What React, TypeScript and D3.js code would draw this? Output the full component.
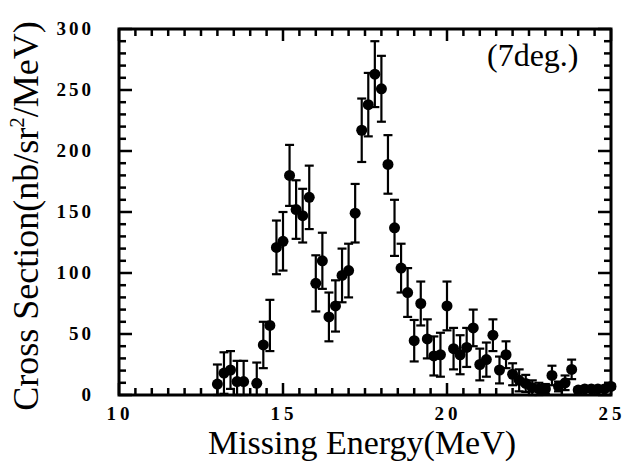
import React from "react";
import * as d3 from "d3";

const energies = [13.0, 13.2, 13.4, 13.6, 13.8, 14.2, 14.4, 14.6, 14.8, 15.0, 15.2, 15.4, 15.6, 15.8, 16.0, 16.2, 16.4, 16.6, 16.8, 17.0, 17.2, 17.4, 17.6, 17.8, 18.0, 18.2, 18.4, 18.6, 18.8, 19.0, 19.2, 19.4, 19.6, 19.8, 20.0, 20.2, 20.4, 20.6, 20.8, 21.0, 21.2, 21.4, 21.6, 21.8, 22.0, 22.2, 22.4, 22.6, 22.8, 23.0, 23.2, 23.4, 23.6, 23.8, 24.0, 24.2, 24.4, 24.6, 24.8, 25.0];
const crossSection = [9, 18, 20.5, 11, 11, 9.6, 41, 57, 121, 126, 180, 152, 147, 162, 91.5, 110, 64, 73, 98, 102, 149, 217, 238, 263, 251, 189, 137, 104, 84, 44.5, 75, 46, 32, 33, 73, 38, 33, 39, 55, 25, 29, 49, 20.5, 33, 17, 12, 9.5, 6, 5, 5, 16, 7, 10, 21, 4, 5, 5, 5, 5, 7];
const errors = [16, 17, 15.5, 17, 17, 17, 19, 21, 22, 24, 25, 24, 22, 26, 23, 23, 20, 21, 22, 22, 24, 26, 26, 27, 27, 24, 23, 20, 20, 17, 18, 16, 16, 18, 20, 17, 16, 16, 15, 13, 14, 13, 11, 11, 9, 9, 7, 6, 5, 4, 8, 4, 6, 8, 2, 2, 2, 2, 2, 2];

const xTickLabels = [10, 15, 20, 25];
const yTickLabels = [0, 50, 100, 150, 200, 250, 300];

const W = 625, H = 467;
const L = 119, R = 611, T = 29, B = 395;

export default function App() {
  const x = d3.scaleLinear().domain([10, 25]).range([L, R]);
  const y = d3.scaleLinear().domain([0, 300]).range([B, T]);
  const xMinor = d3.range(10, 25.001, 0.5);
  const yMinor = d3.range(0, 300.001, 10);
  const tickFont = "'Liberation Serif', 'DejaVu Serif', serif";
  const data = energies.map((e, i) => ({ e, v: crossSection[i], err: errors[i] }));
  const cap = 4.5;
  return (
    <svg width={W} height={H} style={{ position: "absolute", left: 0, top: 0, background: "#fff" }}>
      <rect x={0} y={0} width={W} height={H} fill="#fff" />
      {xMinor.map((t, i) => {
        const major = Math.abs(t % 5) < 1e-6;
        const len = major ? 12 : 7;
        return (
          <g key={"xt" + i} stroke="#000" strokeWidth={2.5}>
            <line x1={x(t)} x2={x(t)} y1={B} y2={B - len} />
            <line x1={x(t)} x2={x(t)} y1={T} y2={T + len} />
          </g>
        );
      })}
      {yMinor.map((t, i) => {
        const major = Math.abs(t % 50) < 1e-6;
        const len = major ? 13 : 7;
        return (
          <g key={"yt" + i} stroke="#000" strokeWidth={2.5}>
            <line x1={L} x2={L + len} y1={y(t)} y2={y(t)} />
            <line x1={R} x2={R - len} y1={y(t)} y2={y(t)} />
          </g>
        );
      })}
      <rect x={L} y={T} width={R - L} height={B - T} fill="none" stroke="#000" strokeWidth={3} />
      {xTickLabels.map((t) => (
        <text key={"xl" + t} x={x(t) + 1} y={420} textAnchor="middle" fontFamily={tickFont} fontWeight="bold" fontSize={19} letterSpacing={4}>
          {t}
        </text>
      ))}
      {yTickLabels.map((t) => (
        <text key={"yl" + t} x={94} y={y(t) + 6} textAnchor="end" fontFamily={tickFont} fontWeight="bold" fontSize={19} letterSpacing={3}>
          {t}
        </text>
      ))}
      {data.map((d, i) => (
        <g key={"p" + i} stroke="#000" strokeWidth={2.2}>
          <line x1={x(d.e)} x2={x(d.e)} y1={y(d.v + d.err)} y2={Math.min(y(Math.max(d.v - d.err, 0)), B)} />
          <line x1={x(d.e) - cap} x2={x(d.e) + cap} y1={y(d.v + d.err)} y2={y(d.v + d.err)} />
          <line x1={x(d.e) - cap} x2={x(d.e) + cap} y1={y(Math.max(d.v - d.err, 0))} y2={y(Math.max(d.v - d.err, 0))} />
          <circle cx={x(d.e)} cy={y(d.v)} r={5.5} fill="#000" stroke="none" />
        </g>
      ))}
      <text x={487} y={66} fontFamily={tickFont} fontSize={32}>(7deg.)</text>
      <text x={362} y={454} textAnchor="middle" fontFamily={tickFont} fontSize={34}>Missing Energy(MeV)</text>
      <text transform="translate(38,216) rotate(-90)" textAnchor="middle" fontFamily={tickFont} fontSize={36}>
        Cross Section(nb/sr<tspan dy={-14} fontSize={21}>2</tspan><tspan dy={14}>/MeV)</tspan>
      </text>
    </svg>
  );
}
